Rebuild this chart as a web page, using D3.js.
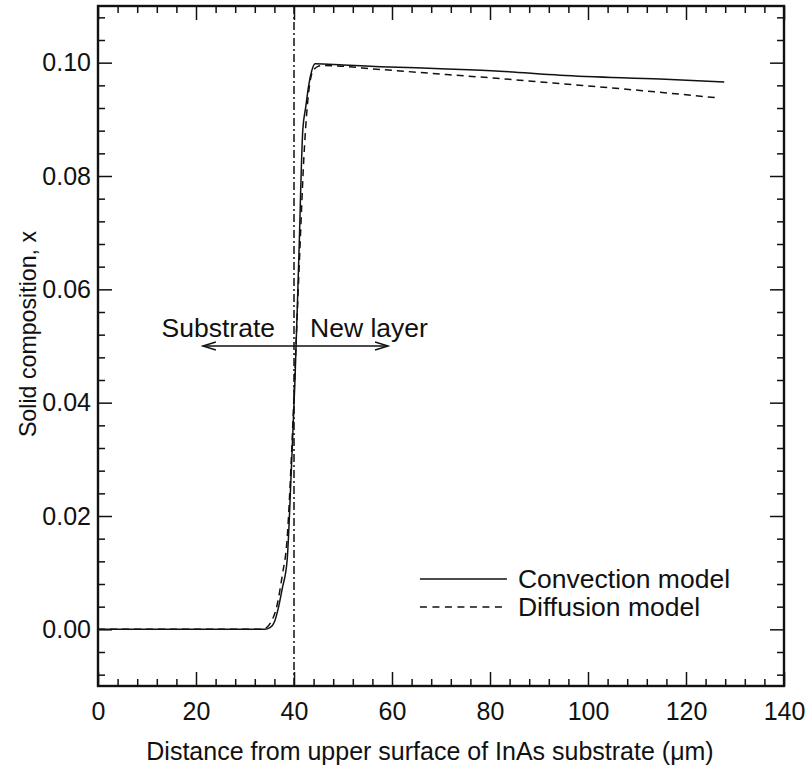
<!DOCTYPE html>
<html>
<head>
<meta charset="utf-8">
<script src="https://cdn.jsdelivr.net/npm/d3@7"></script>
<style>
  body { margin: 0; background: #fff; }
  text { font-family: "Liberation Sans", Arial, Helvetica, sans-serif; fill: #111; }
  .curve { fill: none; stroke: #111; stroke-width: 1.5; }
</style>
</head>
<body>
<div id="chart"></div>
<script>
// chart data
const convX = [0, 20, 34, 35.1, 36, 36.7, 37.6, 38.6, 39.4, 40.2, 41.0, 41.8, 42.4, 43.0, 43.6, 44.3, 50, 57.6, 71.2, 82, 94.3, 114.7, 127.8];
const convY = [0, 0, 0, 0.0003, 0.0013, 0.0034, 0.0072, 0.0122, 0.027, 0.044, 0.066, 0.0882, 0.0922, 0.096, 0.0985, 0.0998, 0.0996, 0.0993, 0.0989, 0.0985, 0.0978, 0.0971, 0.0966];

const diffX = [0, 20, 33, 34.5, 35.5, 36.3, 37.6, 38.6, 39.5, 40.4, 41.2, 42.0, 42.7, 43.7, 44.8, 46, 57.6, 71.2, 82, 92.9, 110.6, 126.3];
const diffY = [0, 0, 0, 0.0004, 0.0016, 0.0034, 0.0095, 0.016, 0.031, 0.05, 0.067, 0.083, 0.0922, 0.0982, 0.0993, 0.0995, 0.0988, 0.0979, 0.0972, 0.0964, 0.0951, 0.0938];

const xMajor = [0, 20, 40, 60, 80, 100, 120, 140];
const yMajor = [0.00, 0.02, 0.04, 0.06, 0.08, 0.10];
const legendLabels = ["Convection model", "Diffusion model"];
const interfaceX = 40;
const arrowLevel = 0.05;
const arrowEnds = [21.4, 59.2];

const margin = { top: 6, right: 22, bottom: 87, left: 98 };
const width  = 806;
const height = 773;
const w = width - margin.left - margin.right;
const h = height - margin.top - margin.bottom;

const majorLen = 14, minorLen = 7;
const fontSize = 25;
const noteSize = 26.5;

const x = d3.scaleLinear().domain([0, 140]).range([0, w]);
const y = d3.scaleLinear().domain([-0.01, 0.11]).range([h, 0]);

const xMinor = d3.range(0, 140.1, 4).filter(v => !xMajor.includes(v));
const yMinor = d3.range(-0.008, 0.1101, 0.004).filter(v => !yMajor.some(m => Math.abs(m - v) < 1e-6));

const svg = d3.select('#chart').append('svg')
    .attr('width', width)
    .attr('height', height)
    .append('g')
    .attr('transform', `translate(${margin.left}, ${margin.top})`);

// ticks on all four sides, pointing in
function ticks(axis, vals, len, fmt) {
  return axis.tickValues(vals).tickSize(len).tickPadding(16).tickFormat(fmt || '');
}

const axisStyle = g => {
  g.select('.domain').remove();
  g.selectAll('line').attr('stroke', '#111').attr('stroke-width', 1.5);
  g.selectAll('text').attr('font-size', fontSize).attr('fill', '#111');
};

svg.append('g').attr('transform', `translate(0, ${h})`)
  .call(ticks(d3.axisBottom(x), xMajor, -majorLen, d3.format('d'))).call(axisStyle);
svg.append('g').attr('transform', `translate(0, ${h})`)
  .call(ticks(d3.axisBottom(x), xMinor, -minorLen)).call(axisStyle);
svg.append('g').call(ticks(d3.axisTop(x), xMajor, -majorLen)).call(axisStyle);
svg.append('g').call(ticks(d3.axisTop(x), xMinor, -minorLen)).call(axisStyle);

svg.append('g')
  .call(ticks(d3.axisLeft(y), yMajor, -majorLen, d3.format('.2f')).tickPadding(7)).call(axisStyle);
svg.append('g').call(ticks(d3.axisLeft(y), yMinor, -minorLen)).call(axisStyle);
svg.append('g').attr('transform', `translate(${w}, 0)`)
  .call(ticks(d3.axisRight(y), yMajor, -majorLen)).call(axisStyle);
svg.append('g').attr('transform', `translate(${w}, 0)`)
  .call(ticks(d3.axisRight(y), yMinor, -minorLen)).call(axisStyle);

// frame
svg.append('rect')
  .attr('width', w).attr('height', h)
  .attr('fill', 'none').attr('stroke', '#111').attr('stroke-width', 2.4);

// interface line, dash-dot
svg.append('line')
  .attr('x1', x(interfaceX)).attr('x2', x(interfaceX))
  .attr('y1', 0).attr('y2', h)
  .attr('stroke', '#111').attr('stroke-width', 1.5)
  .attr('stroke-dasharray', '8,3,2,3');

const line = d3.line().x(d => x(d[0])).y(d => y(d[1])).curve(d3.curveMonotoneX);

svg.append('path')
  .datum(d3.zip(convX, convY))
  .attr('class', 'curve')
  .attr('d', line);

svg.append('path')
  .datum(d3.zip(diffX, diffY))
  .attr('class', 'curve')
  .attr('stroke-dasharray', '7,5')
  .attr('d', line);

// arrows
const ay = y(arrowLevel);
arrowEnds.forEach(end => {
  const dir = end < interfaceX ? -1 : 1;
  const ex = x(end);
  svg.append('line')
    .attr('x1', x(interfaceX)).attr('x2', ex)
    .attr('y1', ay).attr('y2', ay)
    .attr('stroke', '#111').attr('stroke-width', 1.4);
  svg.append('path')
    .attr('d', `M${ex - dir * 13},${ay - 4} L${ex},${ay} L${ex - dir * 13},${ay + 4}`)
    .attr('fill', 'none').attr('stroke', '#111').attr('stroke-width', 1.4);
});

svg.append('text')
  .attr('x', x(interfaceX) - 19).attr('y', ay - 9)
  .attr('text-anchor', 'end').attr('font-size', noteSize)
  .text('Substrate');
svg.append('text')
  .attr('x', x(interfaceX) + 16).attr('y', ay - 9)
  .attr('font-size', noteSize)
  .text('New layer');

// legend
const legend = svg.append('g').attr('transform', `translate(${x(65.7)}, ${y(0.0089)})`);
legendLabels.forEach((lab, i) => {
  legend.append('line')
    .attr('x1', 0).attr('x2', 87)
    .attr('y1', i * 28).attr('y2', i * 28)
    .attr('stroke', '#111').attr('stroke-width', 1.5)
    .attr('stroke-dasharray', i ? '7,5.5' : null);
  legend.append('text')
    .attr('x', 98).attr('y', i * 28)
    .attr('dy', '0.35em').attr('font-size', noteSize)
    .text(lab);
});

// axis titles
svg.append('text')
  .attr('x', w / 2 - 11).attr('y', h + 74)
  .attr('text-anchor', 'middle').attr('font-size', fontSize)
  .text('Distance from upper surface of InAs substrate (\u03bcm)');

svg.append('text')
  .attr('transform', `translate(${-62}, ${h / 2 - 12}) rotate(-90)`)
  .attr('text-anchor', 'middle').attr('font-size', 23.2)
  .text('Solid composition, x');
</script>
</body>
</html>
